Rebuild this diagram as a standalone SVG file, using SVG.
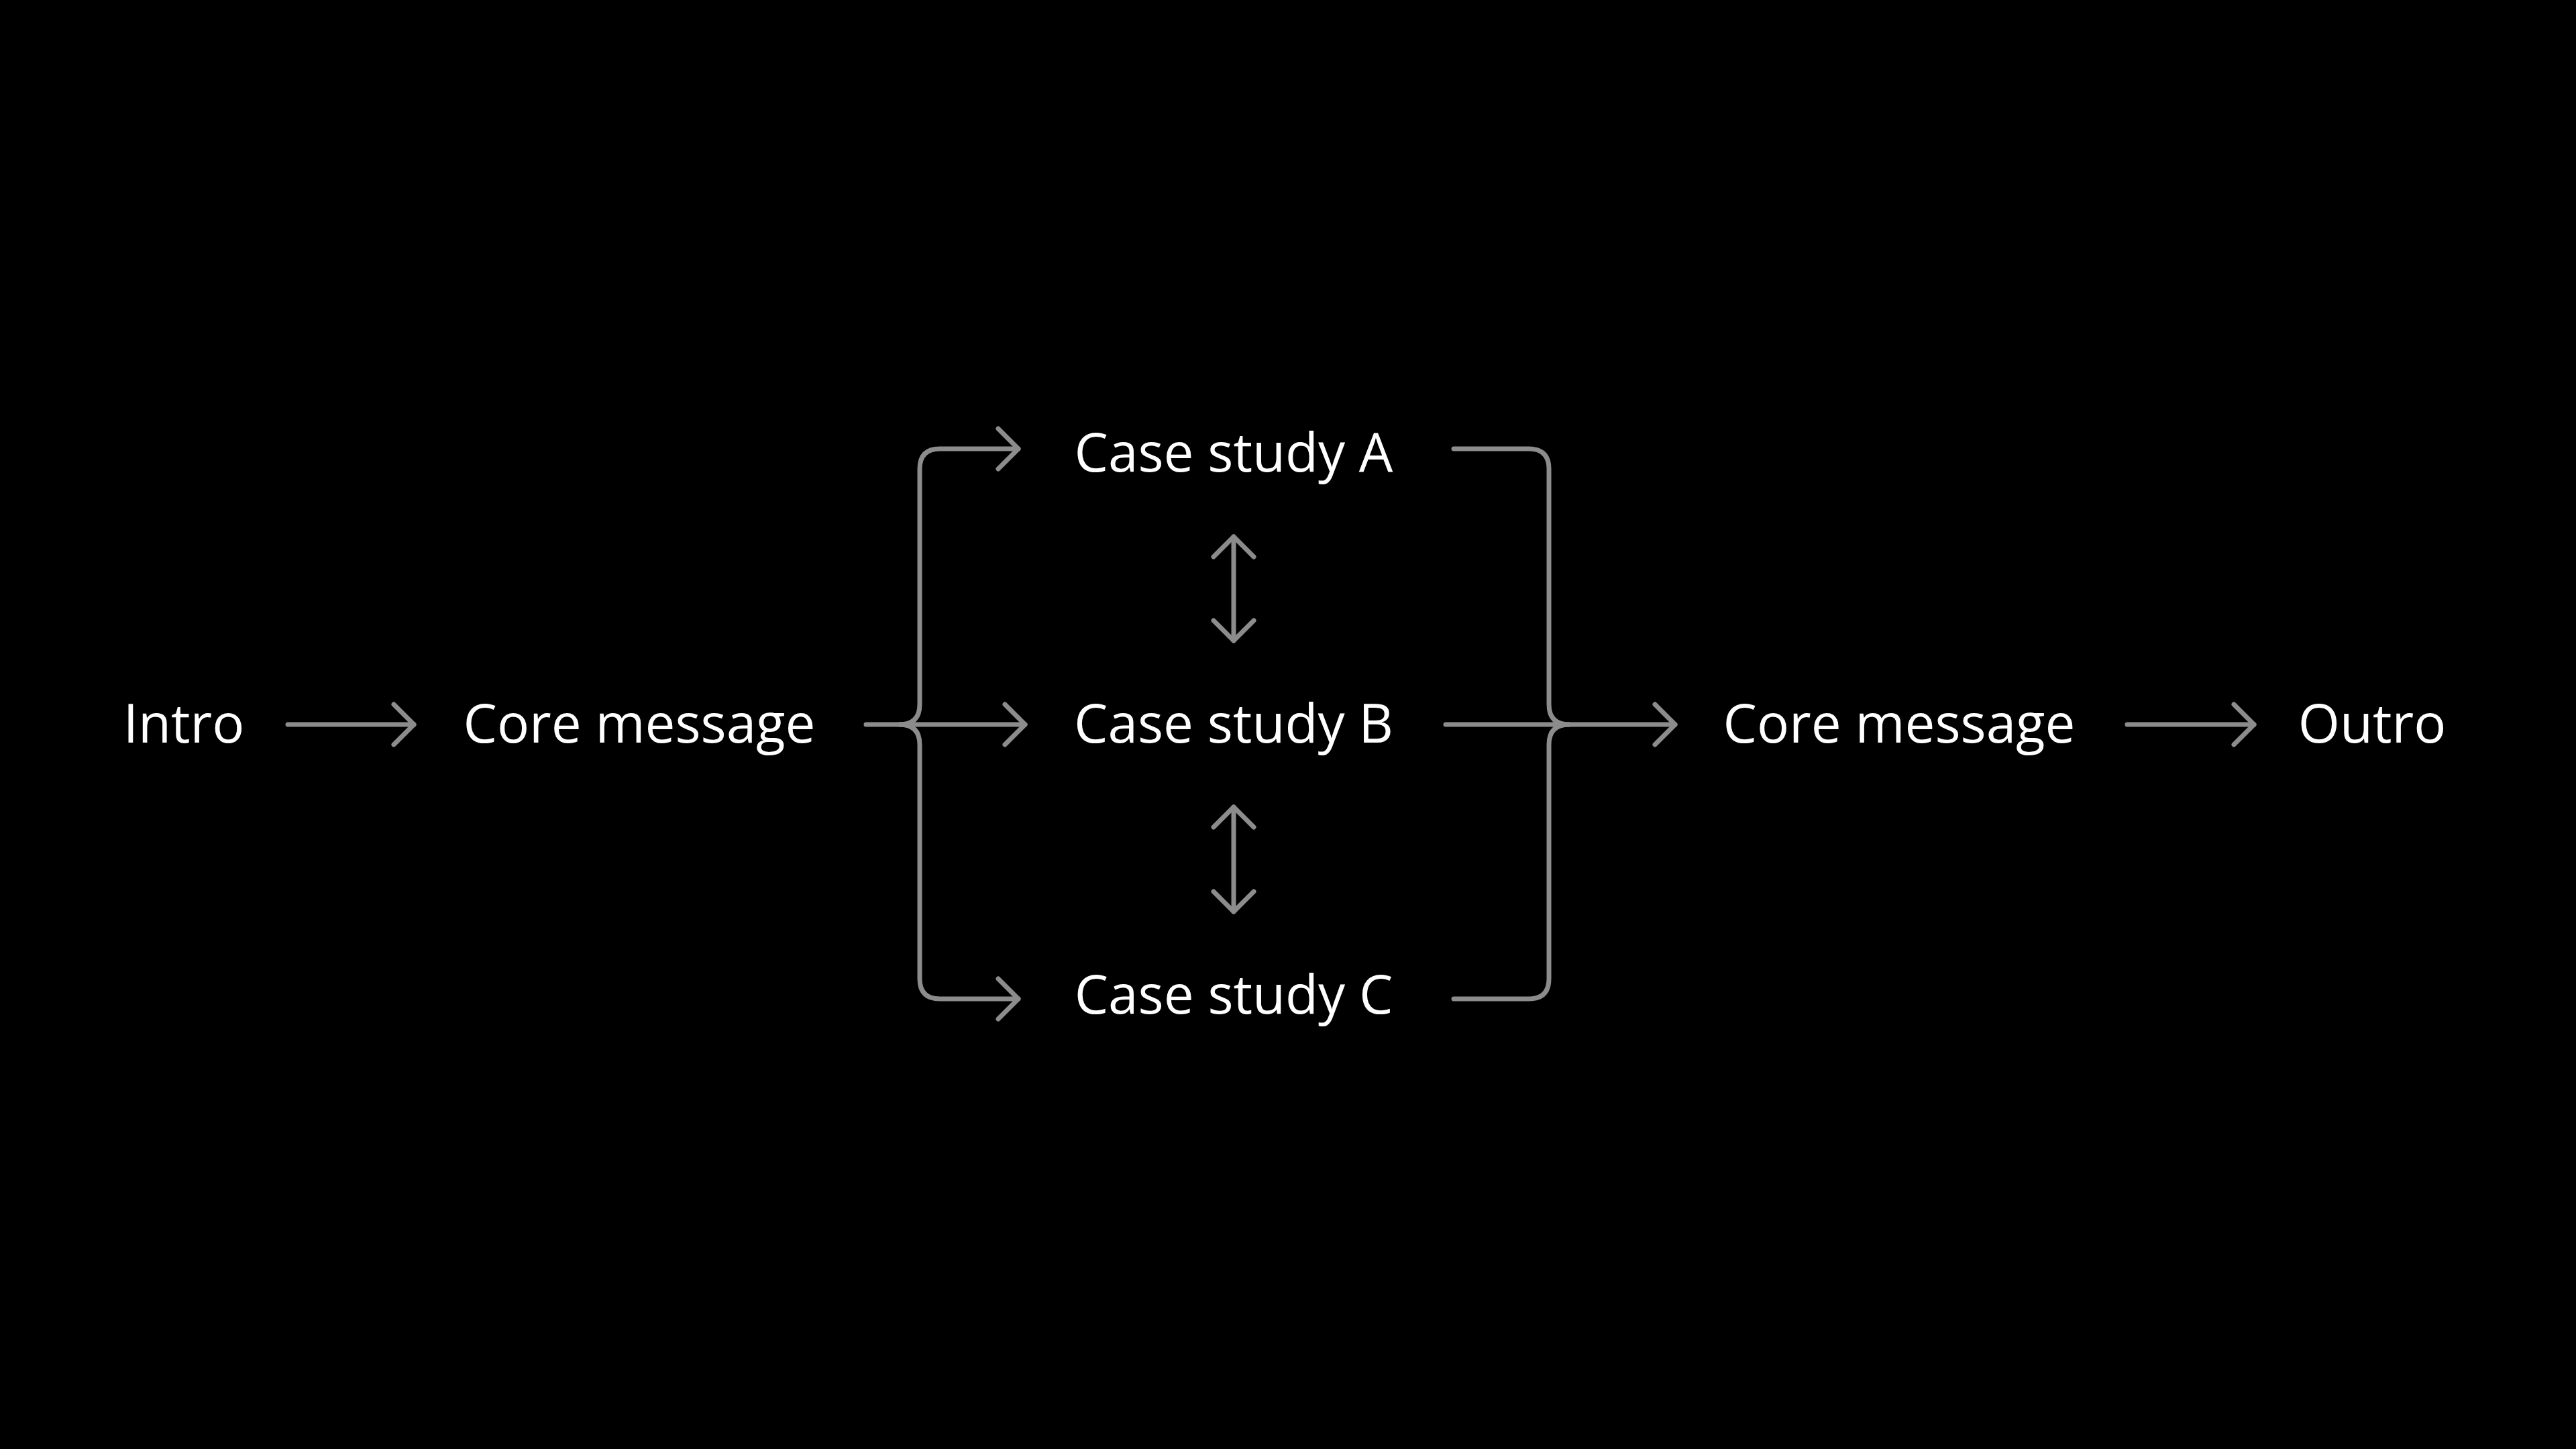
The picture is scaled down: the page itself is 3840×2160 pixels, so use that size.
<svg xmlns="http://www.w3.org/2000/svg" width="3840" height="2160" viewBox="0 0 3840 2160">
<defs>
<marker id="ch" markerUnits="userSpaceOnUse" markerWidth="80" markerHeight="80" viewBox="-40 -40 80 80" refX="0" refY="0" orient="auto-start-reverse">
<path d="M -30 -30 L 0 0 L -30 30" fill="none" stroke="#8c8c8c" stroke-width="7" stroke-linecap="round" stroke-linejoin="round"/>
</marker>
</defs>
<style>
.t{font-family:"Open Sans","Liberation Sans",sans-serif;font-size:80px;fill:#ffffff;text-anchor:middle}
.c{fill:none;stroke:#8c8c8c;stroke-width:7;stroke-linecap:round;stroke-linejoin:round}
</style>
<rect width="3840" height="2160" fill="#000"/>
<g id="connectors">
<line class="c" x1="429" y1="1080" x2="617" y2="1080" marker-end="url(#ch)"/>
<line class="c" x1="1291" y1="1080" x2="1528" y2="1080" marker-end="url(#ch)"/>
<path class="c" d="M 1518 669 H 1401 Q 1371 669 1371 699 V 1050 Q 1371 1080 1341 1080" marker-start="url(#ch)"/>
<path class="c" d="M 1518 1489 H 1401 Q 1371 1489 1371 1459 V 1110 Q 1371 1080 1341 1080" marker-start="url(#ch)"/>
<path class="c" d="M 2167 669 H 2279 Q 2309 669 2309 699 V 1050 Q 2309 1080 2339 1080"/>
<path class="c" d="M 2167 1489 H 2279 Q 2309 1489 2309 1459 V 1110 Q 2309 1080 2339 1080"/>
<line class="c" x1="2155" y1="1080" x2="2497" y2="1080" marker-end="url(#ch)"/>
<line class="c" x1="3171" y1="1080" x2="3360" y2="1080" marker-end="url(#ch)"/>
<line class="c" x1="1839" y1="800" x2="1839" y2="955" marker-start="url(#ch)" marker-end="url(#ch)"/>
<line class="c" x1="1839" y1="1203" x2="1839" y2="1359" marker-start="url(#ch)" marker-end="url(#ch)"/>
</g>
<g id="intro"><text class="t" x="274" y="1107">Intro</text></g>
<g id="core1"><text class="t" x="953" y="1107">Core message</text></g>
<g id="caseA"><text class="t" x="1839" y="703">Case study A</text></g>
<g id="caseB"><text class="t" x="1839" y="1107">Case study B</text></g>
<g id="caseC"><text class="t" x="1839" y="1511">Case study C</text></g>
<g id="core2"><text class="t" x="2831" y="1107">Core message</text></g>
<g id="outro"><text class="t" x="3536" y="1107">Outro</text></g>
</svg>
